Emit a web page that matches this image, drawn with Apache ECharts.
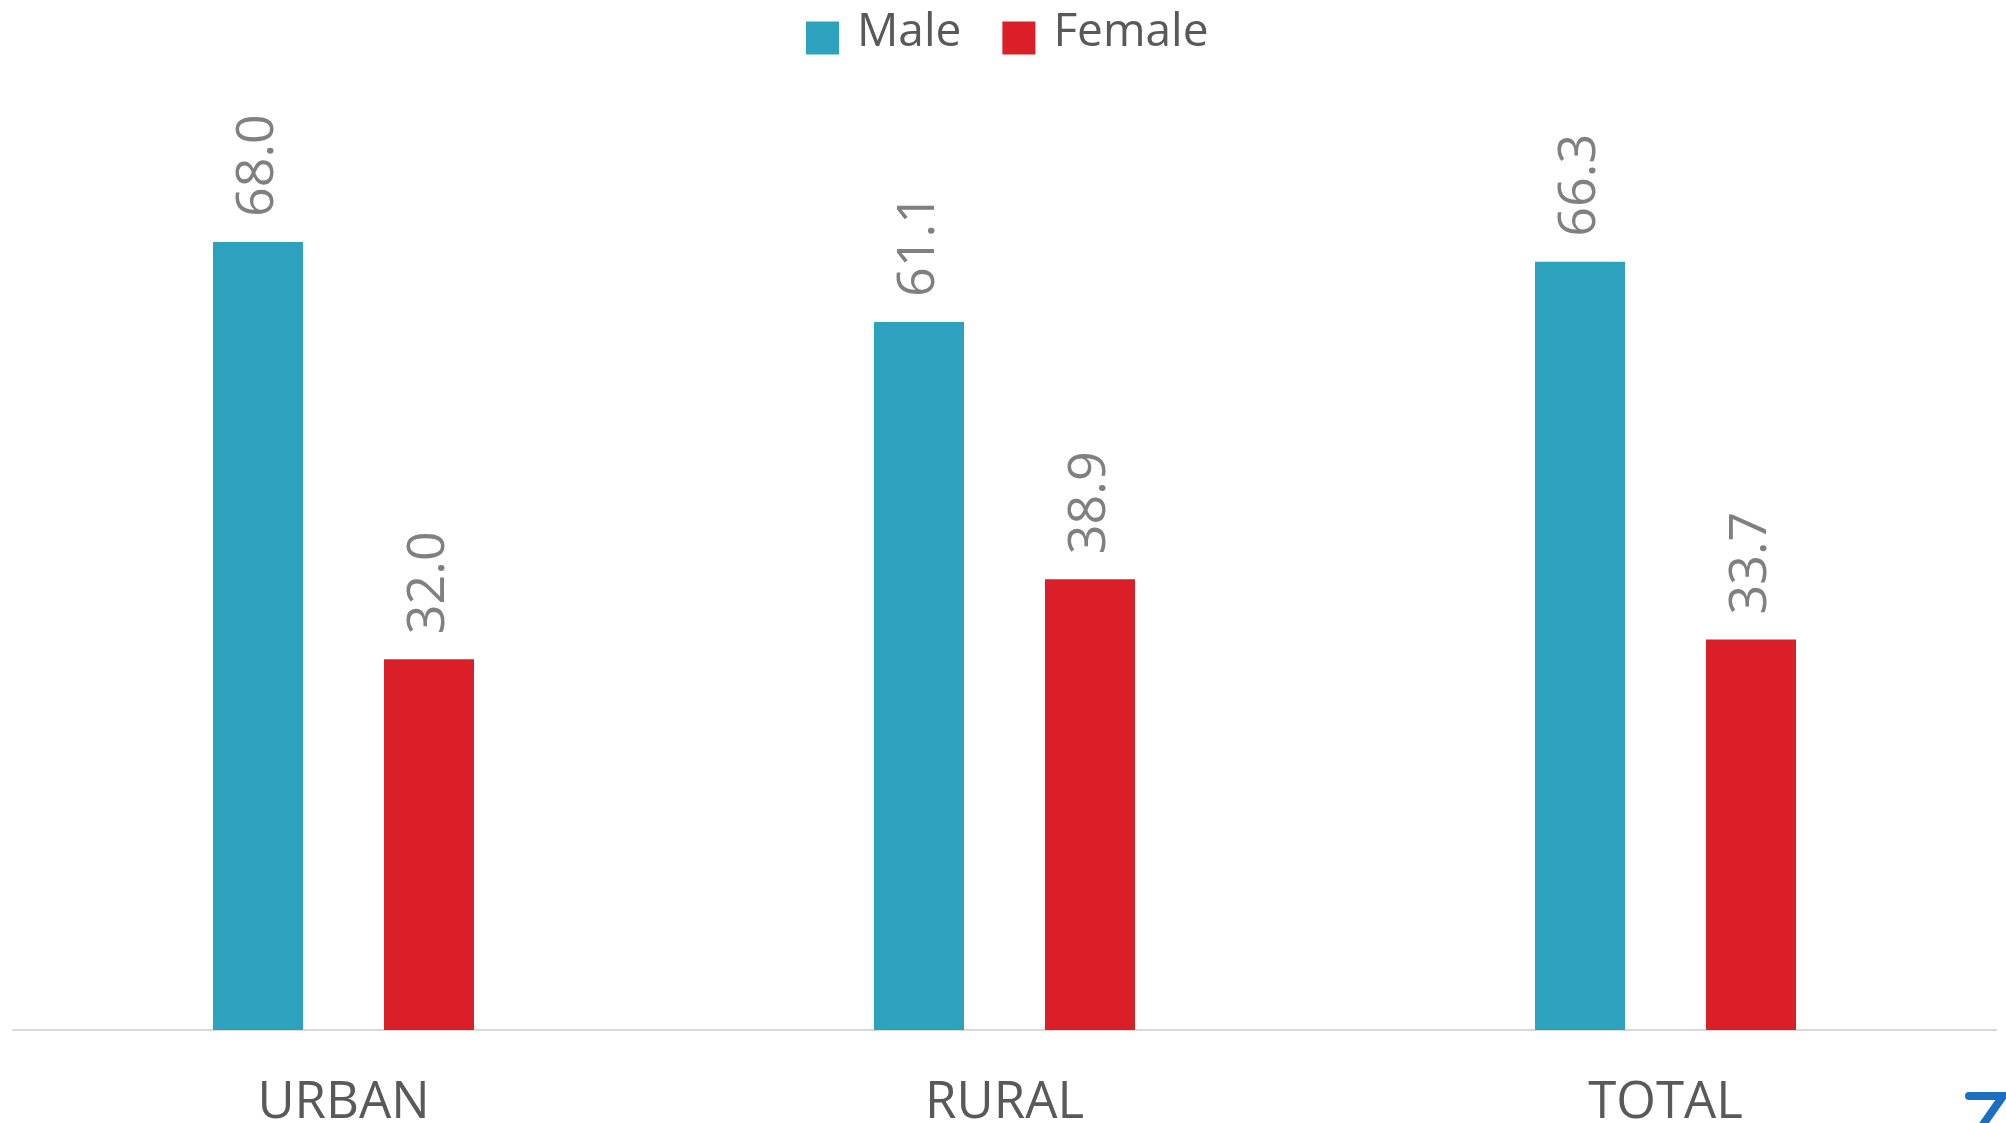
<!DOCTYPE html>
<html>
<head>
<meta charset="utf-8">
<title>Male / Female by area</title>
<script src="https://cdn.jsdelivr.net/npm/echarts@6/dist/echarts.min.js"></script>
<style>
  html, body { margin: 0; padding: 0; background: #ffffff; }
  #chart { width: 2006px; height: 1123px; }
</style>
</head>
<body>
<div id="chart"></div>
<script>
// Share of male and female by area (%)
const categories = ['URBAN', 'RURAL', 'TOTAL'];
const maleValues = [68.0, 61.1, 66.3];
const femaleValues = [32.0, 38.9, 33.7];
const seriesNames = ['Male', 'Female'];

const FONT = '"Open Sans", "Liberation Sans", sans-serif';

const chart = echarts.init(document.getElementById('chart'), null, { renderer: 'canvas' });

const valueLabel = {
  show: true,
  position: 'top',
  rotate: 90,
  align: 'left',
  verticalAlign: 'middle',
  distance: 25,
  color: '#808080',
  fontFamily: FONT,
  fontSize: 52,
  formatter: p => p.value.toFixed(1)
};

chart.setOption({
  animation: false,
  backgroundColor: '#ffffff',
  legend: {
    data: seriesNames,
    left: 801,
    top: 5,
    itemWidth: 33,
    itemHeight: 33,
    itemGap: 41,
    icon: 'rect',
    formatter: '{t|{name}}',
    textStyle: {
      color: '#595959',
      fontFamily: FONT,
      fontSize: 46,
      rich: {
        // text sits a little above the swatch centre
        t: {
          color: '#595959',
          fontFamily: FONT,
          fontSize: 46,
          lineHeight: 33,
          padding: [0, 0, 10, 13]
        }
      }
    }
  },
  grid: {
    left: 13,
    right: 10,
    top: 103,
    bottom: 93,
    containLabel: false,
    outerBoundsMode: 'none'
  },
  xAxis: {
    type: 'category',
    data: categories,
    axisLine: { show: true, lineStyle: { color: '#d9d9d9', width: 2 } },
    axisTick: { show: false },
    axisLabel: {
      color: '#595959',
      fontFamily: FONT,
      fontSize: 51,
      margin: 48
    }
  },
  yAxis: {
    type: 'value',
    min: 0,
    max: 80,
    interval: 20,
    show: false,
    splitLine: { show: false }
  },
  series: [
    {
      name: seriesNames[0],
      type: 'bar',
      data: maleValues,
      barWidth: 90,
      barGap: '90%',
      itemStyle: { color: '#2ca2bf' },
      label: valueLabel
    },
    {
      name: seriesNames[1],
      type: 'bar',
      data: femaleValues,
      barWidth: 90,
      barGap: '90%',
      itemStyle: { color: '#da1f28' },
      label: valueLabel
    }
  ],
  graphic: [
    {
      type: 'polyline',
      shape: { points: [[1969, 1096], [2003, 1096], [1982, 1126]] },
      style: { stroke: '#1a6fc0', lineWidth: 8, lineCap: 'round', lineJoin: 'miter', fill: null }
    }
  ]
});
</script>
</body>
</html>
